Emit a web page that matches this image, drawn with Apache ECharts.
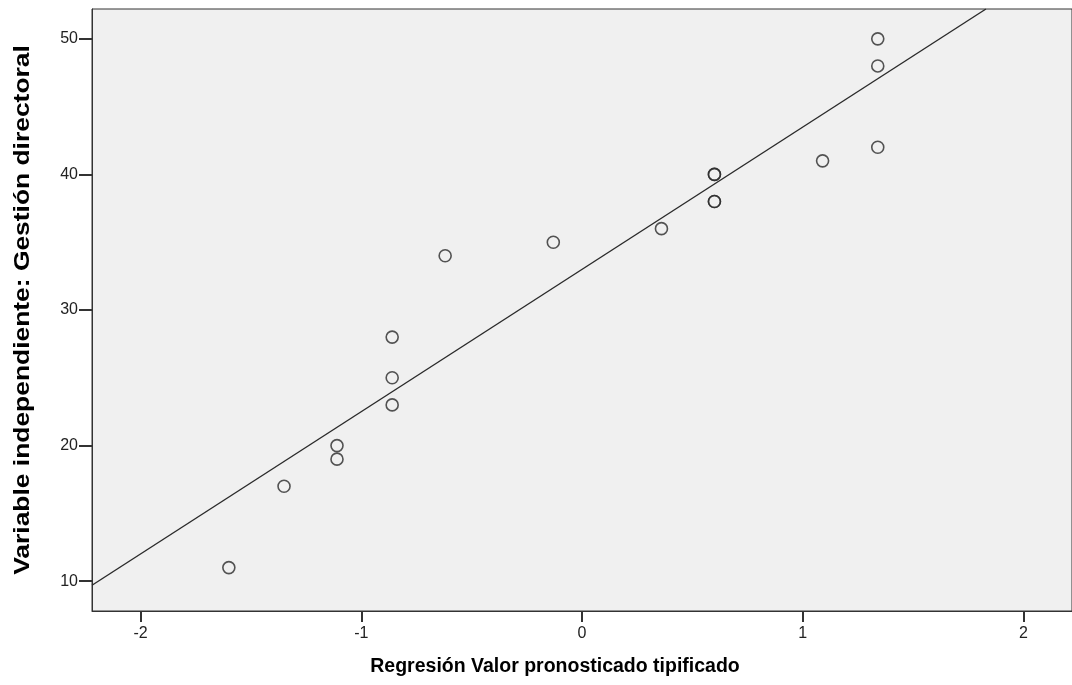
<!DOCTYPE html>
<html>
<head>
<meta charset="utf-8">
<script src="https://cdn.jsdelivr.net/npm/echarts@6/dist/echarts.min.js"></script>
<style>
  html, body { margin: 0; padding: 0; background: #fff; }
  #chart { width: 1072px; height: 685px; }
</style>
</head>
<body>
<div id="chart"></div>
<script>
// 数据：x = 标准化预测值，y = 管理得分
const predX = [-1.60, -1.35, -1.11, -1.11, -0.86, -0.86, -0.86, -0.62, -0.13, 0.36, 0.60, 0.60, 0.60, 0.60, 1.09, 1.34, 1.34, 1.34];
const gestion = [11, 17, 20, 19, 28, 25, 23, 34, 35, 36, 40, 40, 38, 38, 41, 50, 48, 42];
// 拟合线两端
const fitX = [-2.22, 1.83];
const fitY = [9.7, 52.2];
const xTicks = [-2, -1, 0, 1, 2];
const yTicks = [10, 20, 30, 40, 50];
const xTitle = 'Regresión Valor pronosticado tipificado';
const yTitle = 'Variable independiente: Gestión directoral';

const chart = echarts.init(document.getElementById('chart'));

const tickFont = {
    fontFamily: 'Liberation Sans',
    fontSize: 16,
    color: '#222'
};

const option = {
    backgroundColor: '#ffffff',
    animation: false,
    grid: {
        left: 92,
        top: 9,
        right: -3,
        bottom: 74,
        show: true,
        backgroundColor: '#f0f0f0',
        borderColor: '#333',
        borderWidth: 1
    },
    // 坐标轴标题用 graphic，纵向文字略拉长以贴合原图
    graphic: [
        {
            type: 'text',
            x: 555,
            y: 667,
            style: {
                text: xTitle,
                fontFamily: 'Liberation Sans',
                fontWeight: 'bold',
                fontSize: 19.5,
                fill: '#000',
                align: 'center',
                verticalAlign: 'middle'
            }
        },
        {
            type: 'text',
            x: 23,
            y: 310,
            rotation: Math.PI / 2,
            scaleX: 1.2,
            style: {
                text: yTitle,
                fontFamily: 'Liberation Sans',
                fontWeight: 'bold',
                fontSize: 22,
                fill: '#000',
                align: 'center',
                verticalAlign: 'middle'
            }
        }
    ],
    xAxis: {
        type: 'value',
        min: -2.22,
        max: 2.22,
        interval: 1,
        axisLine: { show: true, onZero: false, lineStyle: { color: '#333', width: 1 } },
        axisTick: { show: true, length: 11, lineStyle: { color: '#333', width: 2 }, customValues: xTicks },
        axisLabel: Object.assign({ margin: 15, customValues: xTicks }, tickFont),
        splitLine: { show: false }
    },
    yAxis: {
        type: 'value',
        min: 7.8,
        max: 52.2,
        interval: 10,
        axisLine: { show: true, onZero: false, lineStyle: { color: '#333', width: 1 } },
        axisTick: { show: true, length: 13, lineStyle: { color: '#333', width: 2 }, customValues: yTicks },
        axisLabel: Object.assign({ margin: 14, customValues: yTicks }, tickFont),
        splitLine: { show: false }
    },
    series: [
        {
            type: 'line',
            data: fitX.map((x, i) => [x, fitY[i]]),
            symbol: 'none',
            lineStyle: { color: '#2a2a2a', width: 1.4 },
            z: 2
        },
        {
            type: 'scatter',
            data: predX.map((x, i) => [x, gestion[i]]),
            symbol: 'circle',
            symbolSize: 12,
            itemStyle: {
                color: 'rgba(0,0,0,0)',
                borderColor: '#2a2a2a',
                borderWidth: 1.6
            },
            z: 3
        }
    ]
};

chart.setOption(option);
</script>
</body>
</html>
